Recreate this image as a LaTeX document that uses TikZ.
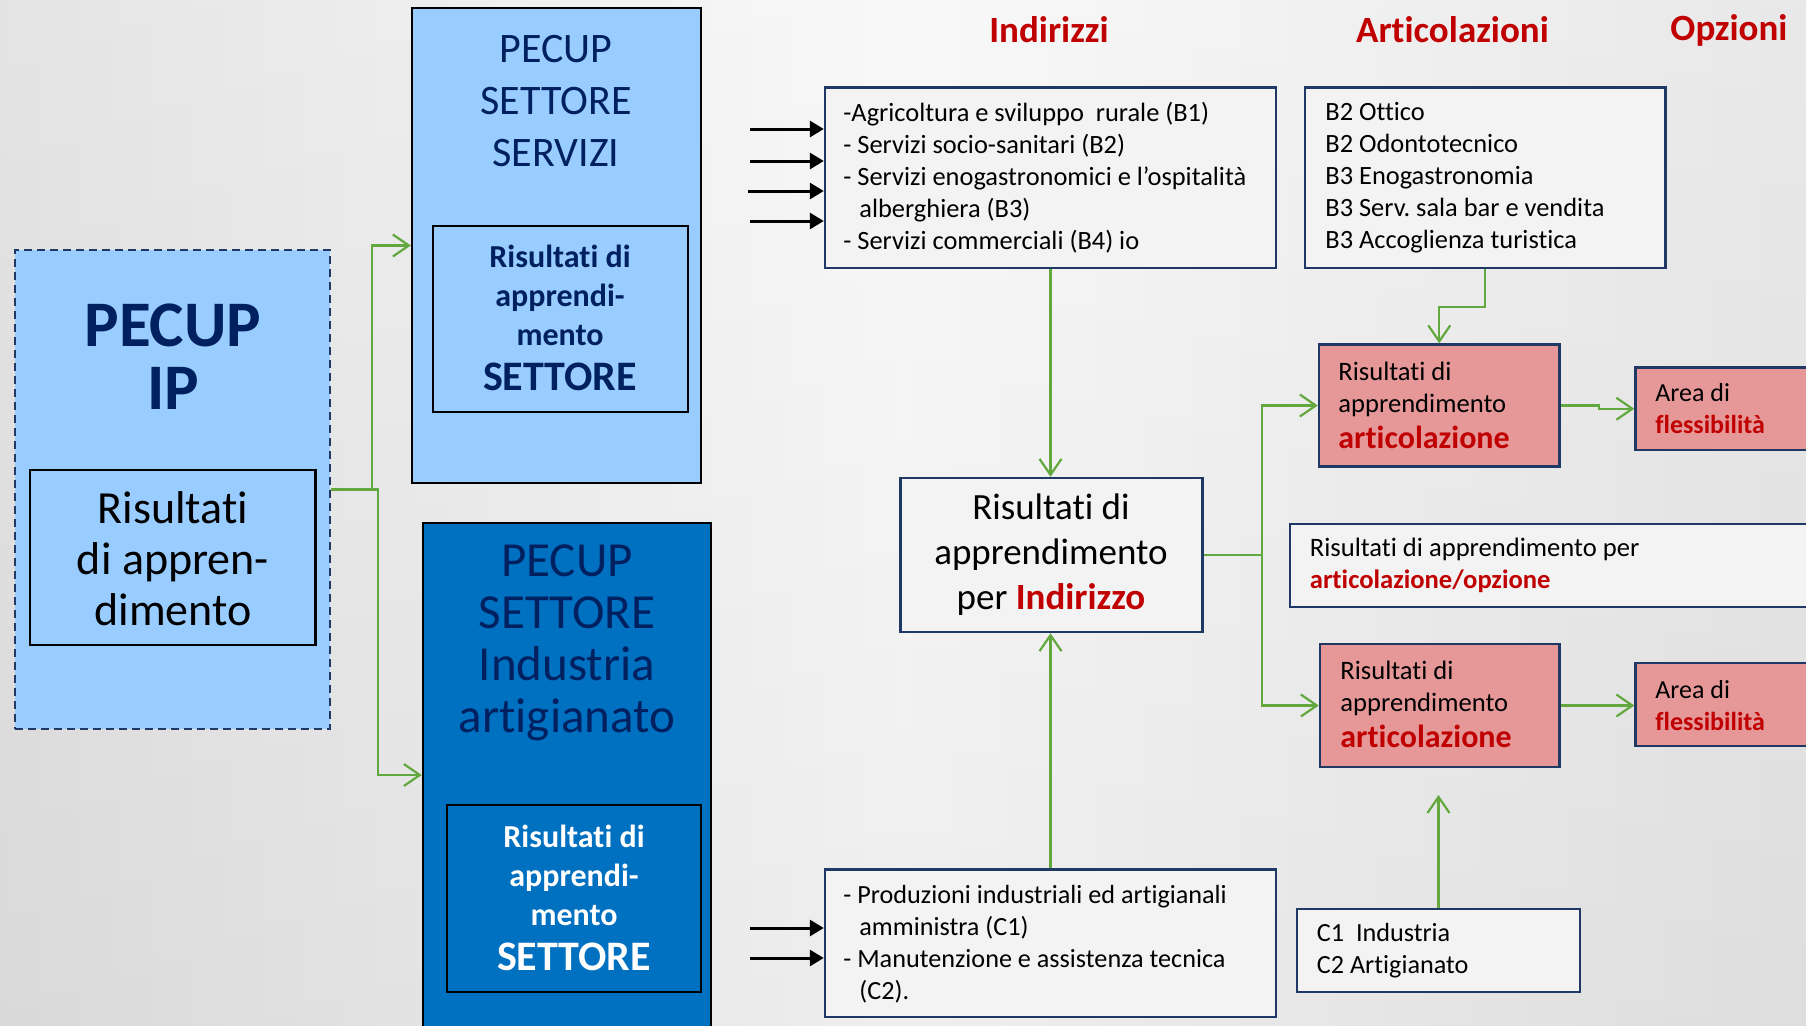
\documentclass[tikz,border=0pt]{standalone}
\usepackage{fontspec}
\setmainfont{Carlito}[Ligatures=NoCommon]
\usetikzlibrary{arrows.meta,fit,calc}
\definecolor{lblue}{RGB}{153,204,255}
\definecolor{dblue}{RGB}{0,112,192}
\definecolor{navy}{RGB}{0,32,96}
\definecolor{bnavy}{RGB}{32,56,100}
\definecolor{pinkf}{RGB}{230,152,153}
\definecolor{redt}{RGB}{192,0,0}
\definecolor{gline}{RGB}{98,168,62}
\definecolor{lfill}{RGB}{243,243,243}
\frenchspacing
\begin{document}
\begin{tikzpicture}[x=0.5pt,y=-0.5pt,
  boxfr/.style={draw, line width=1.2pt, inner sep=0pt},
  txt/.style={inner sep=0pt, align=center},
  ltxt/.style={inner sep=0pt, align=left, anchor=west},
  garrow/.style={draw=gline, line width=1.1pt, -{Straight Barb[length=8pt,width=11pt]}},
  barrow/.style={draw=black, line width=1.5pt, -{Triangle[length=7pt,width=8pt]}},
  head/.style={inner sep=0pt, text=redt, font=\fontsize{18.5}{20}\selectfont\bfseries}
]
\clip (0,0) rectangle (1806,1025);
\shade[left color=gray!24, right color=gray!20, middle color=gray!5] (0,0) rectangle (1806,1025);
\shade[top color=white, bottom color=gray!70, opacity=0.12] (0,0) rectangle (1806,1025);

% PECUP IP
\node[boxfr, draw=bnavy, fill=lblue, dash pattern=on 4pt off 2.5pt, fit={(15,250) (330,729)}] (ip) {};
\node[txt, text=navy, font=\fontsize{32.5}{31.5}\selectfont\bfseries] (iptitle) at (173,357) {PECUP\\IP};
\node[boxfr, draw=black, fill=lblue, fit={(30,470) (315.6,645)}] (ipr) {};
\node[txt, font=\fontsize{23}{25.5}\selectfont] (iprt) at (173,559) {Risultati\\di appren-\\dimento};

% PECUP SETTORE SERVIZI
\node[boxfr, draw=black, fill=lblue, fit={(412,8) (701,483)}] (serv) {};
\node[txt, text=navy, font=\fontsize{21}{26}\selectfont] (servt) at (556,101) {PECUP\\SETTORE\\SERVIZI};
\node[boxfr, draw=black, fit={(433,226) (688,412)}] (servin) {};
\node[txt, text=navy, font=\fontsize{16}{19.5}\selectfont\bfseries] (servint) at (560,318) {Risultati di\\apprendi-\\mento\\[3pt]{\fontsize{21}{22}\selectfont SETTORE}};

% PECUP SETTORE Industria artigianato
\node[boxfr, draw=black, fill=dblue, fit={(423,523) (711,1027)}] (ind) {};
\node[txt, text=navy, font=\fontsize{24.5}{26}\selectfont] (indt) at (567,643) {PECUP\\SETTORE\\Industria\\artigianato};
\node[boxfr, draw=black, fit={(447,805) (701,992)}] (indin) {};
\node[txt, text=white, font=\fontsize{16}{19.5}\selectfont\bfseries] (indint) at (574,898) {Risultati di\\apprendi-\\mento\\[3pt]{\fontsize{21}{22}\selectfont SETTORE}};

% headers
\node[head] (h1) at (1049,30) {Indirizzi};
\node[head] (h2) at (1452.5,30) {Articolazioni};
\node[head] (h3) at (1729,30) {Opzioni};

% Indirizzi B
\node[boxfr, draw=bnavy, fill=lfill, fit={(825,87.5) (1276,268)}] (bA) {};
\node[ltxt, font=\fontsize{13.2}{16}\selectfont] (bAt) at (843,178) {-Agricoltura e sviluppo~ rurale (B1)\\- Servizi socio-sanitari (B2)\\- Servizi enogastronomici e l’ospitalità\\\hspace*{8pt}alberghiera (B3)\\- Servizi commerciali (B4) io};

% Articolazioni B
\node[boxfr, draw=bnavy, fill=lfill, fit={(1305,87.5) (1665.5,268)}] (bB) {};
\node[ltxt, font=\fontsize{13.2}{16}\selectfont] (bBt) at (1325,178) {B2 Ottico\\B2 Odontotecnico\\B3 Enogastronomia\\B3 Serv. sala bar e vendita\\B3 Accoglienza turistica};

% black arrows
\coordinate (a1) at (750,129);
\coordinate (a2) at (750,161);
\coordinate (a3) at (748,191);
\coordinate (a4) at (750,221);
\foreach \c in {a1,a2,a3,a4} \draw[barrow] (\c) -- (\c -| bA.west);

% Risultati per Indirizzo
\node[boxfr, draw=bnavy, fill=lfill, fit={(900.5,478) (1202.5,632)}] (pI) {};
\node[txt, font=\fontsize{18.5}{22.5}\selectfont] (pIt) at (1051,555) {Risultati di\\apprendimento\\per {\bfseries\color{redt}Indirizzo}};

% articolazione top
\node[boxfr, draw=bnavy, fill=pinkf, fit={(1319,344.5) (1559.5,466.5)}] (p1) {};
\node[ltxt, font=\fontsize{13.3}{16}\selectfont] (p1t) at (1338,405) {Risultati di\\apprendimento\\[2pt]{\fontsize{16}{18}\selectfont\bfseries\color{redt}articolazione}};
\node[boxfr, draw=bnavy, fill=pinkf, fit={(1635.5,367.5) (1840,450)}] (f1) {};
\node[ltxt, font=\fontsize{13}{16}\selectfont] (f1t) at (1655,409) {Area di\\{\bfseries\color{redt}flessibilità}};

% middle box
\node[boxfr, draw=bnavy, fill=lfill, fit={(1290,524) (1840,607)}] (m) {};
\node[ltxt, font=\fontsize{13.3}{16}\selectfont] (mt) at (1309.5,565.5) {Risultati di apprendimento per\\{\bfseries\color{redt}articolazione/opzione}};

% articolazione bottom
\node[boxfr, draw=bnavy, fill=pinkf, fit={(1320,644) (1559.5,767)}] (p2) {};
\node[ltxt, font=\fontsize{13.3}{16}\selectfont] (p2t) at (1340,704) {Risultati di\\apprendimento\\[2pt]{\fontsize{16}{18}\selectfont\bfseries\color{redt}articolazione}};
\node[boxfr, draw=bnavy, fill=pinkf, fit={(1635.5,663) (1840,746)}] (f2) {};
\node[ltxt, font=\fontsize{13}{16}\selectfont] (f2t) at (1655,706) {Area di\\{\bfseries\color{redt}flessibilità}};

% Indirizzi C
\node[boxfr, draw=bnavy, fill=lfill, fit={(825,869.5) (1276,1017)}] (bC) {};
\node[ltxt, font=\fontsize{13.1}{16}\selectfont] (bCt) at (843,944) {- Produzioni industriali ed artigianali\\\hspace*{8pt}amministra (C1)\\- Manutenzione e assistenza tecnica\\\hspace*{8pt}(C2).};
\coordinate (c1) at (750,928);
\coordinate (c2) at (750,958);
\foreach \c in {c1,c2} \draw[barrow] (\c) -- (\c -| bC.west);

% Articolazioni C
\node[boxfr, draw=bnavy, fill=lfill, fit={(1297,909) (1580,992)}] (cB) {};
\node[ltxt, font=\fontsize{13.1}{16}\selectfont] (cBt) at (1316.5,951) {C1~ Industria\\C2 Artigianato};

% green connectors
\draw[garrow] (ip.east) -- ++(41,0) |- (serv.west);
\draw[garrow] (ip.east) -- ++(46.5,0) |- (ind.west);
\draw[garrow] (bA.south) -- (bA.south |- pI.north);
\draw[garrow] (bC.north) -- (bC.north |- pI.south);
\draw[garrow] (pI.east) -- ++(58.5,0) |- (p1.west);
\draw[garrow] (pI.east) -- ++(58.5,0) |- (p2.west);
\draw[garrow] (bB.south) -- ++(0,38) -| (p1.north);
\draw[garrow] (p1.east) -- ++(38,0) |- (f1.west);
\draw[garrow] (p2.east) -- (p2.east -| f2.west);
\coordinate (cTip) at (1438.5,795);
\draw[garrow] (cB.north) -- (cTip);
\end{tikzpicture}
\end{document}
